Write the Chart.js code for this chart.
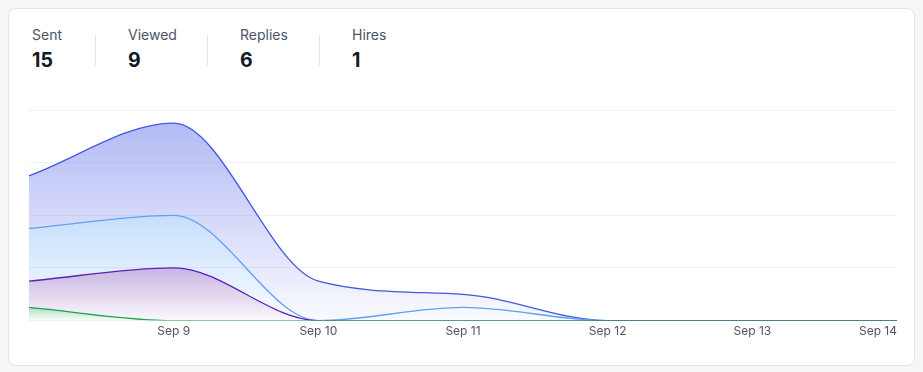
<!DOCTYPE html>
<html>
<head>
<meta charset="utf-8">
<script src="https://cdn.jsdelivr.net/npm/chart.js@4"></script>
<style>
body{margin:0;background:#f6f6f7;font-family:Inter,"Noto Sans",sans-serif;}
#card{position:absolute;left:8px;top:8px;width:905px;height:356px;background:#fff;border:1px solid #e4e4e7;border-radius:8px;}
#stats{position:absolute;left:23px;top:19px;display:flex;}
.stat{width:112px;box-sizing:border-box;padding-left:32px;border-left:1px solid #e5e7eb;height:32px;margin-top:6px;}
.stat:first-child{width:63px;padding-left:0;border-left:none;}
.stat .lbl{font-size:14px;color:#4b5563;margin-top:-8px;line-height:18px;}
.stat .val{font-size:19.5px;font-weight:700;color:#111827;line-height:24px;margin-top:4px;}
#wrap{position:absolute;left:16px;top:96px;width:876px;height:238px;}
</style>
</head>
<body>
<div id="card">
 <div id="stats"></div>
 <div id="wrap"><canvas id="c"></canvas></div>
</div>
<script>
const days=["Sep 8","Sep 9","Sep 10","Sep 11","Sep 12","Sep 13","Sep 14"];
const sent=[4,7,3,1,0,0,0];
const viewed=[4,4,0,1,0,0,0];
const replies=[2,4,0,0,0,0,0];
const hires=[1,0,0,0,0,0,0];

const sum=a=>a.reduce((s,v)=>s+v,0);
let statsHtml="";
[["Sent",sent],["Viewed",viewed],["Replies",replies],["Hires",hires]].forEach(s=>{
 statsHtml+=`<div class="stat"><div class="lbl">${s[0]}</div><div class="val">${sum(s[1])}</div></div>`;
});
document.getElementById("stats").innerHTML=statsHtml;

// highest stacked value reached by each layer, used to anchor its gradient
const stackTop=(...arrs)=>Math.max(...days.map((d,i)=>arrs.reduce((s,a)=>s+a[i],0)));

function fade(rgb,topVal,a0,a1){
 return ctx=>{
  const chart=ctx.chart;
  const area=chart.chartArea;
  if(!area)return null;
  const top=chart.scales.y.getPixelForValue(topVal);
  const g=chart.ctx.createLinearGradient(0,top,0,area.bottom);
  g.addColorStop(0,`rgba(${rgb},${a0})`);
  g.addColorStop(1,`rgba(${rgb},${a1})`);
  return g;
 };
}

new Chart(document.getElementById("c"),{
 type:"line",
 data:{
  labels:days,
  datasets:[
   {label:"Hires",data:hires,borderColor:"#16a34a",fill:"origin",
    backgroundColor:fade("22,163,74",stackTop(hires),0.35,0.02)},
   {label:"Replies",data:replies,borderColor:"#5b21b6",fill:"-1",
    backgroundColor:fade("120,70,185",stackTop(hires,replies),0.4,0.04)},
   {label:"Viewed",data:viewed,borderColor:"#60a0f2",fill:"-1",
    backgroundColor:fade("96,165,250",stackTop(hires,replies,viewed),0.36,0.04)},
   {label:"Sent",data:sent,borderColor:"#4257e3",fill:"-1",
    backgroundColor:fade("79,97,229",stackTop(hires,replies,viewed,sent),0.43,0.03)}
  ]
 },
 options:{
  responsive:true,
  maintainAspectRatio:false,
  animation:false,
  layout:{padding:{top:5,left:0,right:0,bottom:0}},
  datasets:{line:{clip:{left:false,top:false,right:false,bottom:0}}},
  elements:{
   line:{borderWidth:1.3,cubicInterpolationMode:"monotone"},
   point:{radius:0}
  },
  plugins:{legend:{display:false},tooltip:{enabled:false}},
  scales:{
   x:{
    grid:{display:false,drawTicks:false},
    border:{display:false},
    ticks:{
     align:"inner",
     autoSkip:false,
     maxRotation:0,
     padding:4,
     color:"#4b5563",
     font:{family:"Inter",size:12},
     callback:(v,i)=>i===0?"":days[i]
    }
   },
   y:{
    stacked:true,
    min:0,
    max:16,
    ticks:{display:false,stepSize:4},
    grid:{color:"#f1f1f4",drawTicks:false},
    border:{display:false}
   }
  }
 }
});
</script>
</body>
</html>
